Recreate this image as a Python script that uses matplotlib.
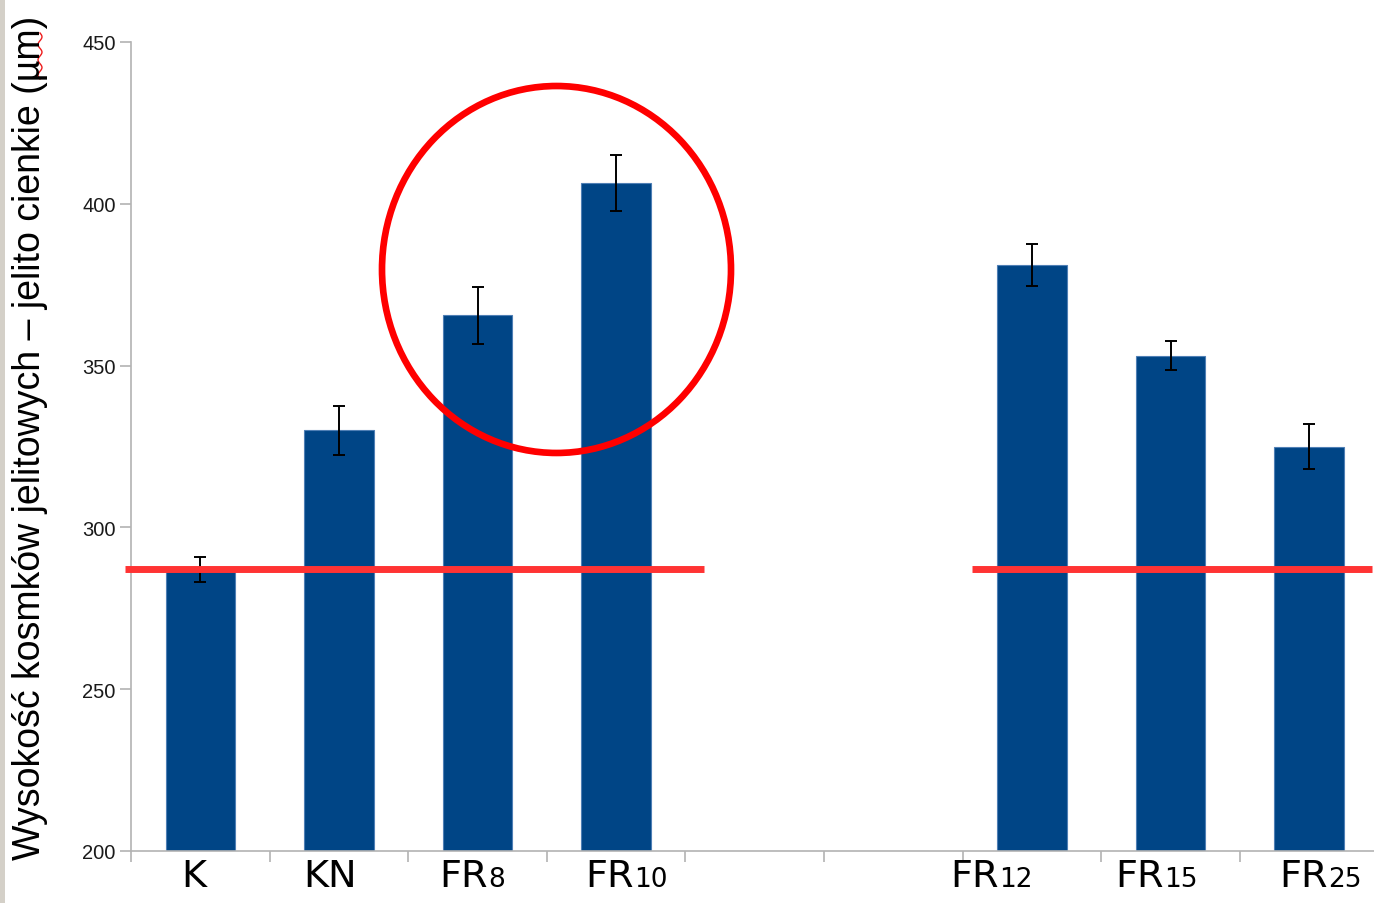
import matplotlib
matplotlib.use("Agg")
import matplotlib.pyplot as plt
from matplotlib.patches import Ellipse, Rectangle
from matplotlib.lines import Line2D
import numpy as np

# Villus height per group (µm) with standard error
groups = ["K", "KN", "FR8", "FR10", "", "", "FR12", "FR15", "FR25"]
heights = [287.0, 330.0, 365.5, 406.5, 200.0, 200.0, 381.0, 353.0, 325.0]
errors = [4.0, 7.5, 8.7, 8.7, 0.0, 0.0, 6.5, 4.5, 7.0]
yticks = [200, 250, 300, 350, 400, 450]
reference_level = 287.0

# Category label pieces: (main text, smaller suffix, x position, alignment)
label_parts = [
    ("K", "", -0.045, "center"),
    ("KN", "", 0.936, "center"),
    ("FR", "8", 2.076, "junction"),
    ("FR", "10", 3.129, "junction"),
    ("FR", "12", 5.763, "junction"),
    ("FR", "15", 6.953, "junction"),
    ("FR", "25", 8.136, "junction"),
]

W, H, DPI = 1374, 904, 100
fig = plt.figure(figsize=(W / DPI, H / DPI), dpi=DPI)
fig.patch.set_facecolor("white")

# thin window border on the left edge
fig.add_artist(Rectangle((0, 0), 5 / W, 1, transform=fig.transFigure,
                         facecolor="#d4d0c8", edgecolor="none"))

ax = fig.add_axes([131 / W, (H - 852) / H, 1247.4 / W, 809 / H])

x = np.arange(len(groups))
bar_color = "#004586"
ax.bar(x, heights, width=0.5, color=bar_color, edgecolor="#4f7fb5",
       linewidth=0.8, zorder=2)
has_err = [i for i, e in enumerate(errors) if e > 0]
ax.errorbar([x[i] for i in has_err], [heights[i] for i in has_err],
            yerr=[errors[i] for i in has_err], fmt="none", ecolor="black",
            elinewidth=1.4, capsize=4.6, capthick=1.4, zorder=3)

ax.set_xlim(-0.5, len(groups) - 0.5)
ax.set_ylim(200, 450)
ax.set_yticks(yticks)
ax.set_xticks(np.arange(-0.5, len(groups), 1.0))
ax.set_xticklabels([])

narrow = ["Liberation Sans Narrow", "Liberation Sans", "DejaVu Sans"]
ax.set_yticklabels([str(v) for v in yticks], family=narrow, fontsize=14.5,
                   color="#1a1a1a")
for side in ("top", "right"):
    ax.spines[side].set_visible(False)
for side in ("left", "bottom"):
    ax.spines[side].set_color("#b3b3b3")
    ax.spines[side].set_linewidth(1.2)
ax.tick_params(axis="y", direction="out", length=8, width=1.2,
               color="#b3b3b3", pad=3)
ax.tick_params(axis="x", direction="out", length=8, width=1.2,
               color="#b3b3b3")

# y axis title
fig.text(30 / W, 1 - 438 / H,
         "Wysokość kosmków jelitowych – jelito cienkie (µm)",
         rotation=90, ha="center", va="center", fontsize=27,
         family=["Liberation Sans", "DejaVu Sans"], color="black")

# red spell-check squiggle under the "µ"
sq_y = np.linspace(34, 80, 48)
sq_x = 40 + 2.0 * np.sin((sq_y - 34) / 46 * 2 * np.pi * 3)
fig.add_artist(Line2D(sq_x / W, 1 - sq_y / H, transform=fig.transFigure,
                      color="#ee1c1c", linewidth=1.0))

# group labels beneath the axis
label_font = ["DejaVu Sans"]
trans = ax.get_xaxis_transform()
base_y = -(887 - 852) / 809
for main, sub, xp, mode in label_parts:
    if mode == "center":
        ax.text(xp, base_y, main, transform=trans, ha="center",
                va="baseline", fontsize=27.5, family=label_font)
    else:
        ax.text(xp, base_y, main, transform=trans, ha="right",
                va="baseline", fontsize=27.5, family=label_font)
        ax.text(xp, base_y, sub, transform=trans, ha="left",
                va="baseline", fontsize=19, family=label_font)

# reference level at the control value
line_color = "#ff3333"
ax.plot([-0.543, 3.634], [reference_level, reference_level], color=line_color,
        linewidth=5, solid_capstyle="butt", clip_on=False, zorder=4)
ax.plot([5.568, 8.454], [reference_level, reference_level], color=line_color,
        linewidth=5, solid_capstyle="butt", clip_on=False, zorder=4)

# highlight ring around FR8 and FR10
ax.add_patch(Ellipse((2.570, 379.7), 2.518, 113.4, fill=False,
                     edgecolor="#ff0000", linewidth=4.8, zorder=5,
                     clip_on=False))

fig.savefig("out.png", dpi=DPI, facecolor="white")
